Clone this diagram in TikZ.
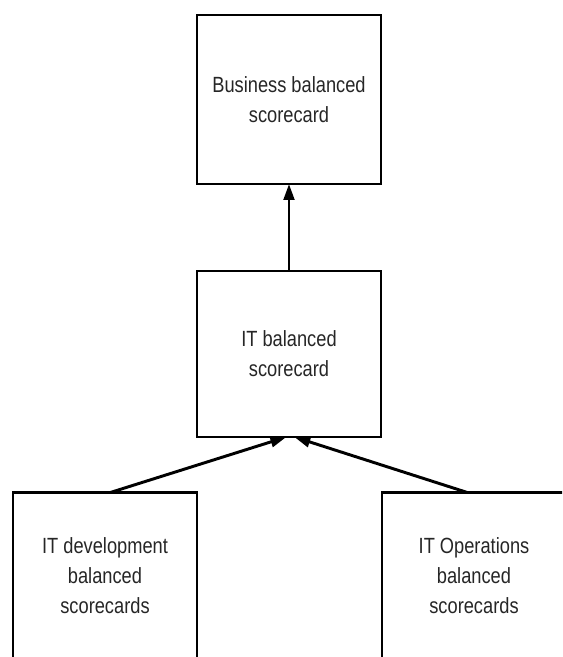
\documentclass[tikz,border=0pt]{standalone}
\usepackage{fontspec}
\setmainfont{Liberation Sans}[FakeStretch=0.83]
\usepackage{tikz}
\usetikzlibrary{arrows.meta}

\begin{document}
\begin{tikzpicture}[x=0.75pt, y=0.75pt, >={Triangle[length=12pt, width=8pt]},
  card/.style={draw, line width=2.2pt, align=center, text=black!85, minimum width=138pt, minimum height=124.5pt,
    inner sep=0pt, outer sep=0pt, font=\fontsize{16.5}{22.5}\selectfont},
  up/.style={->, line width=2.2pt}]
\useasboundingbox (0,0) rectangle (562,657);
\clip (0,0) rectangle (562,657);
\node[card, minimum height=126.75pt] (bus) at (289,557.5) {Business balanced\\scorecard};
\node[card] (it) at (289,303) {IT balanced\\scorecard};
\node[card] (dev) at (105,81.5) {IT development\\balanced\\scorecards};
\node[card] (ops) at (474,81.5) {IT Operations\\balanced\\scorecards};
\draw[up] (it.north) -- (bus.south);
\draw[up] ([xshift=4pt]dev.north) -- ([xshift=-2pt]it.south);
\draw[up] ([xshift=-5pt]ops.north) -- ([xshift=4pt]it.south);
\end{tikzpicture}
\end{document}
